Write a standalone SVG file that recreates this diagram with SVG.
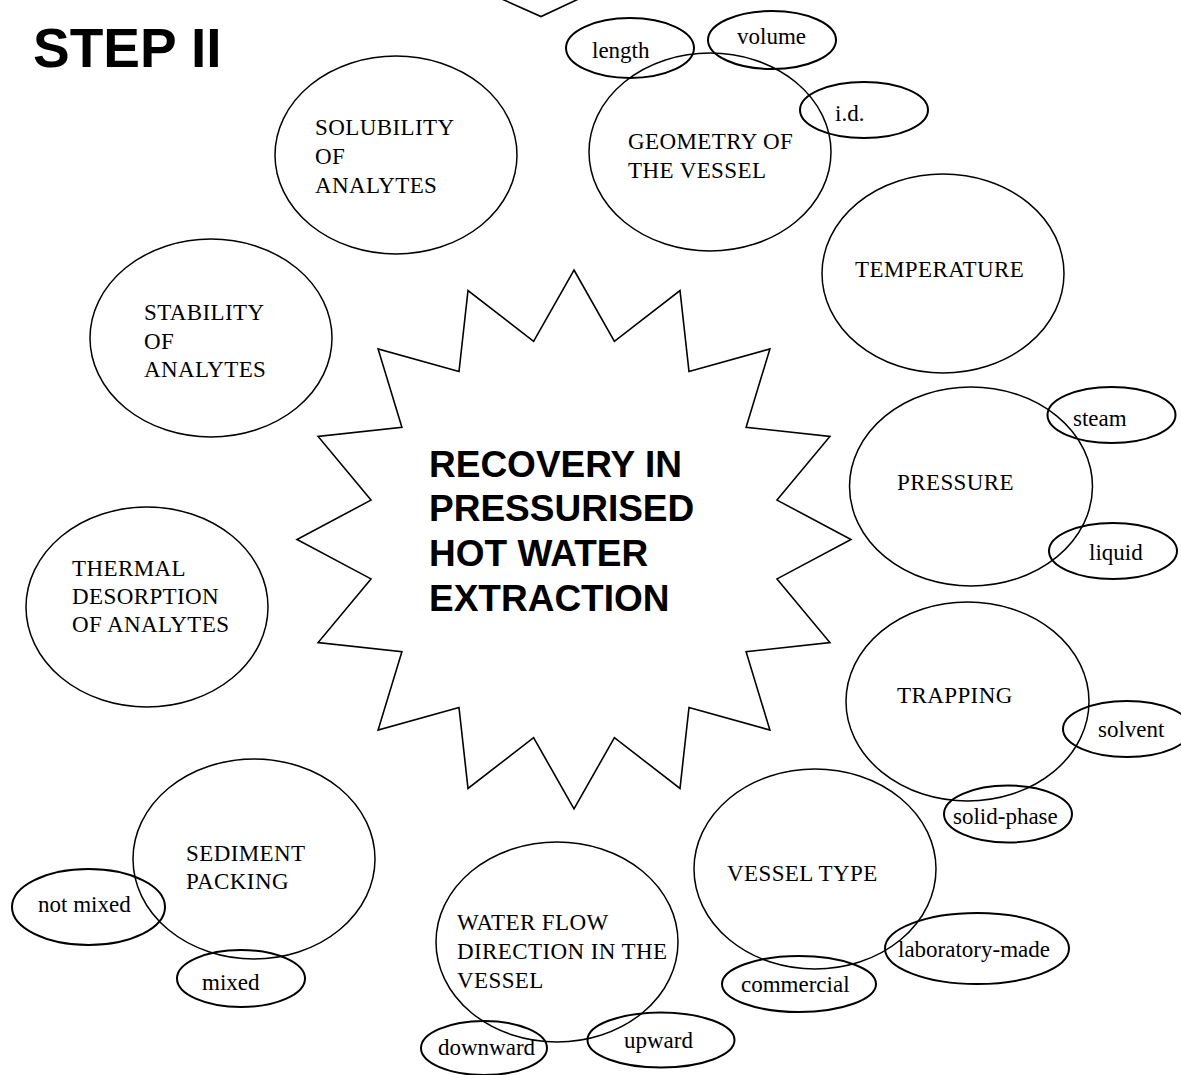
<svg xmlns="http://www.w3.org/2000/svg" width="1181" height="1075" viewBox="0 0 1181 1075">
<style>
.bg{fill:#fff}
.big{fill:none;stroke:#000;stroke-width:1.5}
.sm{fill:none;stroke:#000;stroke-width:2}
.star{fill:none;stroke:#000;stroke-width:1.6;stroke-linejoin:miter}
.t{font-family:"Liberation Serif","Times New Roman",serif;font-size:23px;fill:#000}
.u{letter-spacing:0.4px}
.h{font-family:"Liberation Sans",Arial,sans-serif;font-weight:bold;fill:#000}
</style>
<rect class="bg" x="0" y="0" width="1181" height="1075"/>
<g id="top-fragment">
<polyline class="star" points="495,-4 541,16.5 585,-4"/>
</g>
<g id="title">
<text class="h" x="33" y="67" font-size="55">STEP II</text>
</g>
<g id="center-star">
<polygon class="star" points="574,270 614.4,341.4 680,290.5 689,371.5 769.9,348.9 746.1,427.3 829.9,436.4 777,500.1 851,539.5 777,578.9 829.9,642.6 746.1,651.7 769.9,730.1 689,707.5 680,788.5 614.4,737.6 574,809 533.6,737.6 468,788.5 459,707.5 378.1,730.1 401.9,651.7 318.1,642.6 371,578.9 297,539.5 371,500.1 318.1,436.4 401.9,427.3 378.1,348.9 459,371.5 468,290.5 533.6,341.4"/>
<text class="h" font-size="37"><tspan x="429" y="477">RECOVERY IN</tspan><tspan x="429" y="521">PRESSURISED</tspan><tspan x="429" y="566">HOT WATER</tspan><tspan x="429" y="611">EXTRACTION</tspan></text>
</g>
<g id="solubility">
<ellipse class="big" cx="396" cy="155" rx="121" ry="99"/>
<text class="t u"><tspan x="315" y="135">SOLUBILITY</tspan><tspan x="315" y="164">OF</tspan><tspan x="315" y="193">ANALYTES</tspan></text>
</g>
<g id="geometry">
<ellipse class="big" cx="710" cy="152" rx="121" ry="99"/>
<text class="t u"><tspan x="628" y="149">GEOMETRY OF</tspan><tspan x="628" y="178">THE VESSEL</tspan></text>
</g>
<g id="length">
<ellipse class="sm" cx="630" cy="48" rx="64" ry="30"/>
<text class="t" x="592" y="58">length</text>
</g>
<g id="volume">
<ellipse class="sm" cx="772" cy="40" rx="64" ry="29"/>
<text class="t" x="737" y="44">volume</text>
</g>
<g id="id">
<ellipse class="sm" cx="864" cy="110" rx="64" ry="28"/>
<text class="t" x="835" y="121">i.d.</text>
</g>
<g id="temperature">
<ellipse class="big" cx="943" cy="273.5" rx="121" ry="99.5"/>
<text class="t u" x="855" y="277">TEMPERATURE</text>
</g>
<g id="stability">
<ellipse class="big" cx="211" cy="338" rx="121" ry="99"/>
<text class="t u"><tspan x="144" y="320">STABILITY</tspan><tspan x="144" y="348.5">OF</tspan><tspan x="144" y="377">ANALYTES</tspan></text>
</g>
<g id="thermal">
<ellipse class="big" cx="147" cy="607" rx="121" ry="100"/>
<text class="t u"><tspan x="72" y="576">THERMAL</tspan><tspan x="72" y="604">DESORPTION</tspan><tspan x="72" y="632">OF ANALYTES</tspan></text>
</g>
<g id="pressure">
<ellipse class="big" cx="971" cy="486.5" rx="121.5" ry="99.5"/>
<text class="t u" x="897" y="490">PRESSURE</text>
</g>
<g id="steam">
<ellipse class="sm" cx="1111.5" cy="415" rx="64" ry="28"/>
<text class="t" x="1073" y="426">steam</text>
</g>
<g id="liquid">
<ellipse class="sm" cx="1113" cy="551" rx="64" ry="28"/>
<text class="t" x="1089" y="560">liquid</text>
</g>
<g id="trapping">
<ellipse class="big" cx="967.5" cy="701.5" rx="121.5" ry="99.5"/>
<text class="t u" x="897" y="703">TRAPPING</text>
</g>
<g id="solvent">
<ellipse class="sm" cx="1127" cy="729" rx="64" ry="28"/>
<text class="t" x="1098" y="737">solvent</text>
</g>
<g id="solid-phase">
<ellipse class="sm" cx="1008" cy="814" rx="64" ry="28.5"/>
<text class="t" x="953" y="824">solid-phase</text>
</g>
<g id="vessel-type">
<ellipse class="big" cx="815" cy="869" rx="121" ry="100"/>
<text class="t u" x="727" y="881">VESSEL TYPE</text>
</g>
<g id="laboratory-made">
<ellipse class="sm" cx="977" cy="948.5" rx="92" ry="35.5"/>
<text class="t" x="898" y="957">laboratory-made</text>
</g>
<g id="commercial">
<ellipse class="sm" cx="799" cy="984" rx="77" ry="28"/>
<text class="t" x="741" y="992">commercial</text>
</g>
<g id="water-flow">
<ellipse class="big" cx="557" cy="942" rx="121" ry="100"/>
<text class="t u"><tspan x="457" y="930">WATER FLOW</tspan><tspan x="457" y="959">DIRECTION IN THE</tspan><tspan x="457" y="988">VESSEL</tspan></text>
</g>
<g id="upward">
<ellipse class="sm" cx="661" cy="1040" rx="73.5" ry="27.5"/>
<text class="t" x="624" y="1048">upward</text>
</g>
<g id="downward">
<ellipse class="sm" cx="484" cy="1048" rx="63" ry="27"/>
<text class="t" x="438" y="1055">downward</text>
</g>
<g id="sediment">
<ellipse class="big" cx="254" cy="859" rx="121" ry="100"/>
<text class="t u"><tspan x="186" y="861">SEDIMENT</tspan><tspan x="186" y="889">PACKING</tspan></text>
</g>
<g id="not-mixed">
<ellipse class="sm" cx="88.5" cy="907" rx="76.5" ry="38"/>
<text class="t" x="38" y="912">not mixed</text>
</g>
<g id="mixed">
<ellipse class="sm" cx="241" cy="978.5" rx="64" ry="28.5"/>
<text class="t" x="202" y="990">mixed</text>
</g>
</svg>
